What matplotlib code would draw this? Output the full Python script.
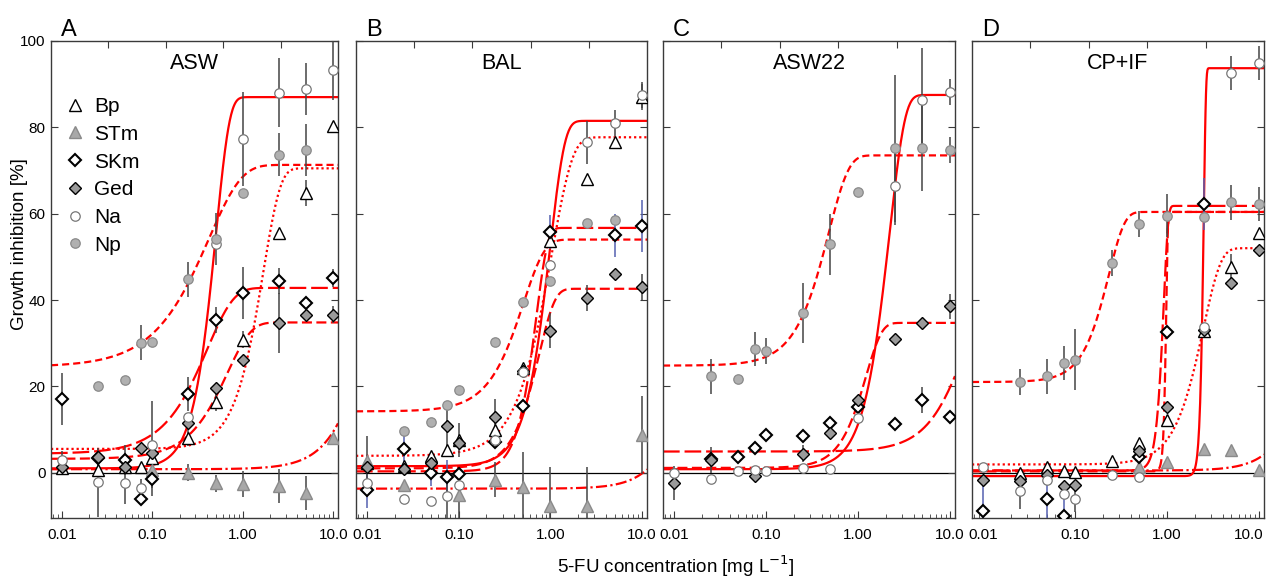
import numpy as np
import matplotlib
matplotlib.use('Agg')
from matplotlib import pyplot as plt
from matplotlib.lines import Line2D
from matplotlib.ticker import FixedLocator, LogLocator, NullFormatter
from matplotlib.transforms import ScaledTranslation

plt.rcParams['font.family'] = ['Liberation Sans', 'DejaVu Sans']

nan = np.nan

# 5-FU test concentrations [mg/L]
CONC = [0.01, 0.025, 0.05, 0.075, 0.1, 0.25, 0.5, 1.0, 2.5, 5.0, 10.0]
SPECIES = ['Bp', 'STm', 'SKm', 'Ged', 'Na', 'Np']

# ---- A: ASW ----
ASW_BP = [1.0, 0.7, 1.4, 1.4, 3.5, 8.1, 16.3, 30.8, 55.5, 64.8, 80.2]
ASW_STM = [nan, nan, nan, nan, 0.7, 0.0, -2.5, -2.6, -3.1, -4.7, 8.1]
ASW_SKM = [17.0, 3.5, 3.0, -6.2, -1.4, 18.2, 35.3, 41.7, 44.3, 39.4, 45.1]
ASW_GED = [1.4, 3.7, 1.4, 5.8, 4.6, 11.5, 19.7, 26.2, 34.7, 36.6, 36.6]
ASW_NA = [3.0, -2.2, -2.3, -3.5, 6.5, 12.8, 53.0, 77.3, 88.0, 88.9, 93.3]
ASW_NP = [nan, 20.1, 21.5, 30.1, 30.2, 44.8, 54.2, 64.8, 73.7, 74.7, nan]
ASW_BP_ERR = [0, 0, 0, 0, 0, 2, 2, 2, 0, 3, 0]
ASW_STM_ERR = [0, 0, 0, 0, 0, 2, 2, 3, 4, 4, 0]
ASW_SKM_ERR = [6, 0, 3.5, 0, 4, 4, 3, 6, 3, 0, 2]
ASW_GED_ERR = [0, 0, 0, 0, 0, 0, 0, 0, 7, 0, 2]
ASW_NA_ERR = [2, 8, 5, 2, 10, 0, 0, 11, 8, 6, 7]
ASW_NP_ERR = [0, 0, 0, 4, 0, 4, 6, 0, 5, 6, 0]

# ---- B: BAL ----
BAL_BP = [2.2, 1.5, 3.8, 5.3, 7.6, 10.0, 24.3, 53.7, 68.0, 76.5, 87.0]
BAL_STM = [2.8, -2.8, nan, nan, -5.1, -1.6, -3.3, -7.7, -7.7, nan, 8.8]
BAL_SKM = [-4.1, 5.6, 0.0, -1.0, -0.2, 7.0, 15.5, 55.8, nan, 55.0, 57.2]
BAL_GED = [1.4, 0.9, 2.3, 10.7, 6.9, 13.0, 23.6, 32.9, 40.4, 46.0, 43.0]
BAL_NA = [-2.4, -6.0, -6.6, -5.5, -2.8, 7.6, 23.4, 48.0, 76.5, 81.0, 87.5]
BAL_NP = [nan, 9.7, 11.7, 15.7, 19.2, 30.3, 39.6, 44.3, 57.8, 58.5, nan]
BAL_BP_ERR = [0, 0, 0, 0, 4, 0, 0, 0, 0, 0, 3]
BAL_STM_ERR = [0, 0, 0, 0, 6, 4, 8, 9, 9, 0, 9]
BAL_SKM_ERR = [4, 4, 3, 4, 0, 0, 0, 4, 0, 5, 6]
BAL_GED_ERR = [7, 0, 0, 5, 0, 4, 0, 4, 3, 0, 3]
BAL_NA_ERR = [0, 0, 0, 6, 0, 0, 0, 0, 5, 3, 3]
BAL_NP_ERR = [0, 0, 0, 0, 0, 0, 0, 0, 0, 0, 0]

# ---- C: ASW22 (no Bp / STm) ----
A22_BP = [nan] * 11
A22_STM = [nan] * 11
A22_SKM = [nan, 3.2, 3.7, 5.8, 8.8, 8.6, 11.6, 15.1, 11.3, 16.9, 12.8]
A22_GED = [-2.4, 3.0, nan, -0.7, nan, 4.4, 9.2, 16.9, 31.0, 34.7, 38.5]
A22_NA = [0.0, -1.4, 0.5, 0.7, 0.3, 1.1, 0.9, 12.7, 66.3, 86.3, 88.1]
A22_NP = [nan, 22.3, 21.7, 28.7, 28.2, 37.0, 52.9, 65.0, 75.1, 75.3, 74.8]
A22_BP_ERR = [0] * 11
A22_STM_ERR = [0] * 11
A22_SKM_ERR = [0, 0, 0, 0, 0, 0, 0, 0, 0, 3, 0]
A22_GED_ERR = [4, 3, 0, 0, 0, 2, 0, 0, 0, 0, 3]
A22_NA_ERR = [0, 0, 0, 0, 0, 0, 0, 0, 9, 12, 3]
A22_NP_ERR = [0, 4, 0, 4, 3, 7, 7, 0, 17, 10, 3]

# ---- D: CP+IF ----
CP_BP = [nan, 0.0, 1.2, 0.3, 0.1, 2.6, 6.9, 12.3, 32.9, 47.7, 55.6]
CP_STM = [nan, nan, nan, nan, nan, nan, 1.2, 2.4, 5.5, 5.3, 0.7]
CP_SKM = [-8.8, nan, -6.2, -10.0, nan, nan, 3.7, 32.6, 62.2, nan, nan]
CP_GED = [-1.6, -2.0, -0.5, -3.1, -2.8, nan, 5.1, 15.2, 33.0, 44.0, 51.6]
CP_NA = [1.4, -4.3, -1.6, -4.9, -6.1, -0.5, -1.0, nan, 33.8, 92.6, 94.9]
CP_NP = [nan, 21.0, 22.3, 25.4, 26.2, 48.6, 57.6, 59.5, 59.2, 62.6, 62.2]
CP_BP_ERR = [0, 0, 0, 0, 0, 0, 0, 0, 0, 3, 0]
CP_STM_ERR = [0] * 11
CP_SKM_ERR = [8, 0, 8, 8, 0, 0, 0, 0, 6, 0, 0]
CP_GED_ERR = [0] * 11
CP_NA_ERR = [0, 4, 0, 0, 3, 0, 0, 0, 0, 4, 4]
CP_NP_ERR = [0, 3, 4, 4, 7, 3, 3, 5, 0, 4, 4]

# dose-response curves: (bottom, top, EC, slope), Weibull type
ASW_CURVES = {'Bp': (5.5, 70.5, 1.69, 2.3), 'STm': (0.8, 60.0, 27.8, 1.8),
              'SKm': (4.4, 42.8, 0.406, 1.49), 'Ged': (3.2, 34.8, 0.68, 1.67),
              'Na': (1.0, 87.0, 0.506, 2.9), 'Np': (24.5, 71.3, 0.42, 1.2)}
BAL_CURVES = {'Bp': (3.9, 77.7, 1.03, 1.9), 'STm': (-3.7, 30.0, 30.0, 2.0),
              'SKm': (0.3, 56.7, 0.70, 3.5), 'Ged': (1.0, 42.6, 0.75, 2.5),
              'Na': (1.5, 81.5, 0.99, 2.7), 'Np': (14.2, 54.0, 0.51, 1.9)}
A22_CURVES = {'SKm': (4.9, 40.0, 13.9, 1.8), 'Ged': (1.1, 34.7, 1.22, 2.55),
              'Na': (0.8, 87.5, 2.2, 2.6), 'Np': (24.8, 73.5, 0.48, 2.0)}
CP_CURVES = {'Bp': (1.9, 52.0, 2.49, 2.3), 'STm': (0.5, 40.0, 36.0, 2.0),
             'SKm': (0.5, 61.8, 0.92, 9.0), 'Ged': (0.3, 60.4, 0.98, 25.0),
             'Na': (-0.8, 93.7, 2.5, 18.0), 'Np': (21.0, 60.4, 0.233, 2.54)}

PANEL_LETTERS = ['A', 'B', 'C', 'D']
PANEL_TITLES = ['ASW', 'BAL', 'ASW22', 'CP+IF']

MARK = {
    'Bp': dict(marker='^', mfc='white', mec='black', ms=8, mew=1.0),
    'STm': dict(marker='^', mfc='#a8a8a8', mec='#8a8a8a', ms=8, mew=1.0),
    'SKm': dict(marker='D', mfc='white', mec='black', ms=6.3, mew=1.5),
    'Ged': dict(marker='D', mfc='#9a9a9a', mec='black', ms=5.8, mew=1.0),
    'Na': dict(marker='o', mfc='white', mec='#777777', ms=6.8, mew=0.9),
    'Np': dict(marker='o', mfc='#b0b0b0', mec='#8a8a8a', ms=6.8, mew=0.9),
}
LINESTYLE = {'Na': '-', 'Np': (0, (3.2, 1.8)), 'Bp': (0, (1.0, 1.3)),
             'SKm': (0, (7.5, 2.2)), 'Ged': (0, (4.5, 2.0)),
             'STm': (0, (5.0, 1.5, 1.0, 1.5))}


def weibull(x, c, d, e, h):
    return c + (d - c) * (1.0 - np.exp(-(x / e) ** h))


def panel_data(prefix):
    g = globals()
    vals = {s: g['%s_%s' % (prefix, s.upper())] for s in SPECIES}
    errs = {s: g['%s_%s_ERR' % (prefix, s.upper())] for s in SPECIES}
    return vals, errs


PREFIXES = ['ASW', 'BAL', 'A22', 'CP']
CURVES = [ASW_CURVES, BAL_CURVES, A22_CURVES, CP_CURVES]
SKM_ERR_COLOR = ['#444444', '#5560b0', '#444444', '#5560b0']

XMIN, XMAX = 0.00757, 11.3
W, H = 1266, 578
LEFTS = [51, 356, 663, 972]
WIDTHS = [287, 291, 292, 292]
TOP, BOTTOM = 41, 518
AXC = '#3a3a3a'

fig = plt.figure(figsize=(W / 100, H / 100), dpi=100)
xs = np.logspace(np.log10(XMIN), np.log10(XMAX), 600)

for i, pre in enumerate(PREFIXES):
    ax = fig.add_axes([LEFTS[i] / W, 1 - BOTTOM / H, WIDTHS[i] / W, (BOTTOM - TOP) / H])
    ax.set_xscale('log')
    ax.set_xlim(XMIN, XMAX)
    ax.set_ylim(-10.5, 100)
    ax.axhline(0, color='black', lw=0.9, zorder=1)

    for sp, par in CURVES[i].items():
        ax.plot(xs, weibull(xs, *par), color='#ff0000', lw=1.6,
                ls=LINESTYLE[sp], zorder=2)

    vals, errs = panel_data(pre)
    for sp in SPECIES:
        y = np.array(vals[sp], dtype=float)
        e = np.array(errs[sp], dtype=float)
        x = np.array(CONC)
        m = (~np.isnan(y)) & (e > 0)
        ecol = SKM_ERR_COLOR[i] if sp == 'SKm' else '#444444'
        if m.any():
            ax.errorbar(x[m], y[m], yerr=e[m], fmt='none', ecolor=ecol,
                        elinewidth=1.1, capsize=0, zorder=3)
        ax.plot(x, y, ls='none', zorder=4, **MARK[sp])

    # axes cosmetics
    for s in ax.spines.values():
        s.set_color(AXC)
        s.set_linewidth(1.0)
    ax.xaxis.set_major_locator(FixedLocator([0.01, 0.1, 1, 10]))
    ax.set_xticklabels(['0.01', '0.10', '1.00', '10.0'], fontsize=11)
    ax.xaxis.set_minor_locator(LogLocator(base=10, subs=np.arange(2, 10)))
    ax.xaxis.set_minor_formatter(NullFormatter())
    ax.set_yticks([0, 20, 40, 60, 80, 100])
    ax.tick_params(axis='x', which='major', direction='in', length=5, pad=7,
                   color=AXC, top=False)
    ax.tick_params(axis='x', which='minor', direction='in', length=3,
                   color=AXC, top=False)
    ax.tick_params(axis='y', direction='in', length=5, right=True,
                   color=AXC, labelsize=11, pad=4)
    if i > 0:
        ax.set_yticklabels([])
    if i == 3:
        # last label sits at the figure edge; keep it inside
        lab = ax.get_xticklabels()[-1]
        lab.set_horizontalalignment('right')
        lab.set_transform(lab.get_transform() + ScaledTranslation(4 / 100, 0, fig.dpi_scale_trans))

    top = ax.twiny()
    top.set_xlim(0, 1)
    top.set_xticks([0.2, 0.4, 0.6, 0.8])
    top.set_xticklabels([])
    top.tick_params(axis='x', direction='in', length=5, color=AXC)
    for s in top.spines.values():
        s.set_visible(False)

    ax.text(0.5, 0.975, PANEL_TITLES[i], transform=ax.transAxes, ha='center',
            va='top', fontsize=15.5)
    ax.text(0.035, 1.0105, PANEL_LETTERS[i], transform=ax.transAxes, ha='left',
            va='baseline', fontsize=17)

    if i == 0:
        ax.set_ylabel('Growth inhibition [%]', fontsize=13.5)
        ax.yaxis.set_label_coords(-0.08, 0.575)
        handles = [Line2D([], [], ls='none', **MARK[sp]) for sp in SPECIES]
        ax.legend(handles, SPECIES, loc='upper left', bbox_to_anchor=(0.02, 0.9),
                  frameon=False, fontsize=15, handlelength=1.0,
                  handletextpad=0.4, labelspacing=0.42, borderaxespad=0)

fig.text(0.534, 0.021, '5-FU concentration [mg L$^{-1}$]', ha='center',
         va='center', fontsize=13.5)

fig.savefig('out.png', dpi=100)
